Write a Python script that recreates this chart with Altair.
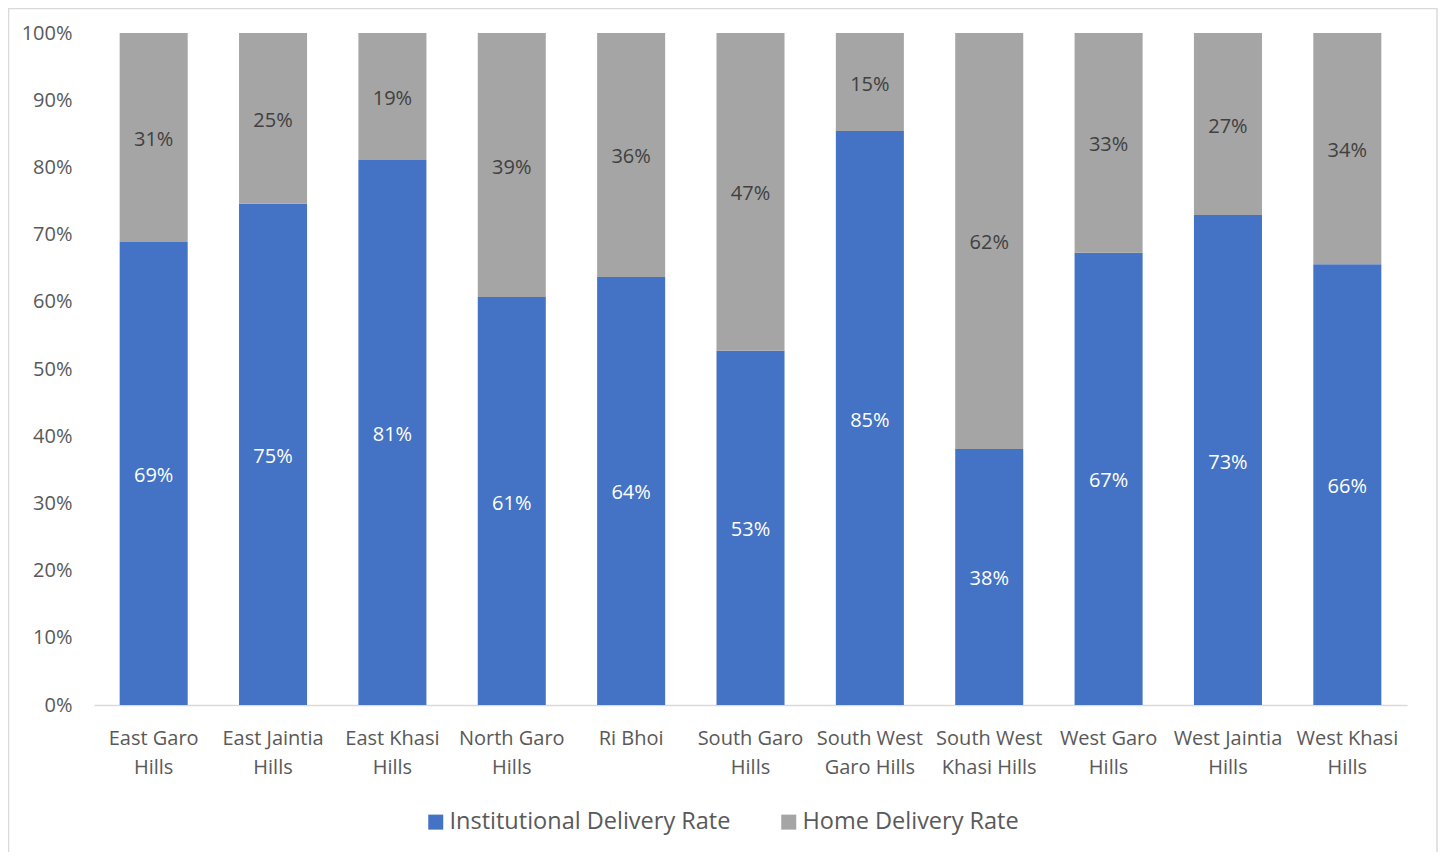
import altair as alt
import pandas as pd

districts = ["East Garo|Hills", "East Jaintia|Hills", "East Khasi|Hills", "North Garo|Hills",
             "Ri Bhoi", "South Garo|Hills", "South West|Garo Hills", "South West|Khasi Hills",
             "West Garo|Hills", "West Jaintia|Hills", "West Khasi|Hills"]
institutional = [68.9, 74.6, 81.1, 60.7, 63.7, 52.7, 85.4, 38.1, 67.3, 72.9, 65.6]
home = [31.1, 25.4, 18.9, 39.3, 36.3, 47.3, 14.6, 61.9, 32.7, 27.1, 34.4]
series = ["Institutional Delivery Rate", "Home Delivery Rate"]
colors = ["#4472C4", "#A5A5A5"]
label_colors = ["#FFFFFF", "#404040"]

rows = []
for d, a, b in zip(districts, institutional, home):
    rows.append({"district": d, "series": series[0], "order": 0, "value": a / 100})
    rows.append({"district": d, "series": series[1], "order": 1, "value": b / 100})
df = pd.DataFrame(rows)

FONT = "Open Sans"

base = alt.Chart(df).transform_stack(
    stack="value", groupby=["district"], as_=["y0", "y1"], sort=[alt.SortField("order")]
).transform_calculate(mid="(datum.y0 + datum.y1) / 2")

x = alt.X("district:N", sort=districts, title=None,
          scale=alt.Scale(paddingInner=0.43, paddingOuter=0.215),
          axis=alt.Axis(labelAngle=0, labelExpr="split(datum.label, '|')",
                        labelFontSize=20, labelColor="#595959", labelFont=FONT,
                        labelLineHeight=29, labelPadding=23, ticks=False,
                        domainColor="#D9D9D9", domainWidth=1.3, labelLimit=200))

bars = base.mark_bar().encode(
    x=x,
    y=alt.Y("y0:Q", title=None, scale=alt.Scale(domain=[0, 1], nice=False),
            axis=alt.Axis(format=".0%", values=[i / 10 for i in range(11)], grid=False,
                          domain=False, ticks=False, labelFontSize=20, labelColor="#595959",
                          labelFont=FONT, labelPadding=22)),
    y2="y1:Q",
    color=alt.Color("series:N", sort=series, scale=alt.Scale(domain=series, range=colors),
                    legend=alt.Legend(title=None, orient="none", direction="horizontal",
                                      legendX=330, legendY=777,
                                      labelFontSize=23.5, labelColor="#595959", labelFont=FONT,
                                      labelLimit=500,
                                      symbolType="square", symbolSize=225, symbolStrokeWidth=0,
                                      columnPadding=46, labelOffset=2)),
    order=alt.Order("order:Q"),
)

labels = base.mark_text(font=FONT, fontSize=20, dy=2.5).encode(
    x=alt.X("district:N", sort=districts),
    y=alt.Y("mid:Q"),
    text=alt.Text("value:Q", format=".0%"),
    color=alt.Color("series:N", scale=alt.Scale(domain=series, range=label_colors), legend=None),
)

border = alt.Chart(alt.Data(values=[{"b": 1}])).mark_rect(
    fill=None, stroke="#D9D9D9", strokeWidth=1.5
).encode(
    x=alt.value(-85.5), x2=alt.value(1343), y=alt.value(-24.5), y2=alt.value(835)
)

chart = alt.layer(bars, labels, border).resolve_scale(color="independent").properties(
    width=1313, height=672,
    autosize=alt.AutoSizeParams(type="none"),
    padding={"left": 86, "top": 25, "right": 31, "bottom": 147},
    background="white",
).configure_view(stroke=None)

chart.save("out.html", embed_options={"renderer": "svg", "actions": False})
